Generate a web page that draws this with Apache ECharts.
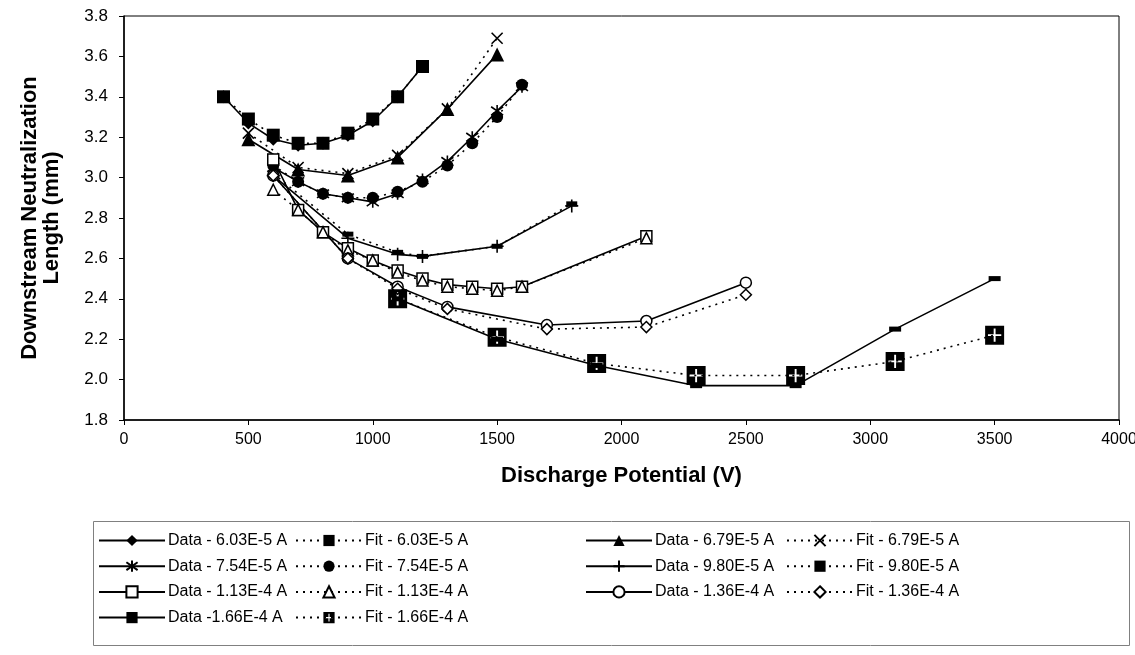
<!DOCTYPE html>
<html><head><meta charset="utf-8">
<script src="https://cdn.jsdelivr.net/npm/echarts@6/dist/echarts.min.js"></script>
<style>html,body{margin:0;padding:0;background:#fff}#c{width:1135px;height:655px}</style>
</head><body><div id="c"></div>
<script>
// ---- data ----
const x603 = [400,500,600,700,800,900,1000,1100,1200];
const data603 = [3.40,3.27,3.19,3.16,3.17,3.21,3.28,3.40,3.55];
const fit603  = [3.40,3.29,3.21,3.17,3.17,3.22,3.29,3.40,3.55];
const x679 = [500,700,900,1100,1300,1500];
const data679 = [3.19,3.04,3.01,3.10,3.34,3.61];
const fit679  = [3.22,3.05,3.02,3.11,3.34,3.69];
const x754 = [600,700,800,900,1000,1100,1200,1300,1400,1500,1600];
const data754 = [3.05,2.98,2.92,2.90,2.88,2.92,2.99,3.08,3.20,3.33,3.45];
const fit754  = [3.06,2.98,2.92,2.90,2.90,2.93,2.98,3.06,3.17,3.30,3.46];
const x980 = [600,900,1100,1200,1500,1800];
const data980 = [3.01,2.70,2.62,2.61,2.66,2.86];
const fit980  = [3.02,2.72,2.63,2.61,2.66,2.87];
const x113 = [600,700,800,900,1000,1100,1200,1300,1400,1500,1600,2100];
const data113 = [3.09,2.84,2.73,2.65,2.59,2.54,2.50,2.47,2.46,2.45,2.46,2.71];
const fit113  = [2.94,2.84,2.73,2.64,2.59,2.53,2.49,2.46,2.45,2.44,2.46,2.70];
const x136 = [600,900,1100,1300,1700,2100,2500];
const data136 = [3.01,2.60,2.46,2.36,2.27,2.29,2.48];
const fit136  = [3.01,2.60,2.45,2.35,2.25,2.26,2.42];
const x166 = [1100,1500,1900,2300,2700,3100,3500];
const data166 = [2.40,2.20,2.07,1.97,1.97,2.25,2.50];
const fit166  = [2.40,2.21,2.08,2.02,2.02,2.09,2.22];
const xTicks = [0,500,1000,1500,2000,2500,3000,3500,4000];
const yTicks = [1.8,2.0,2.2,2.4,2.6,2.8,3.0,3.2,3.4,3.6,3.8];

const names = {
  d603:'Data - 6.03E-5 A', f603:'Fit - 6.03E-5 A',
  d679:'Data - 6.79E-5 A', f679:'Fit - 6.79E-5 A',
  d754:'Data - 7.54E-5 A', f754:'Fit - 7.54E-5 A',
  d980:'Data - 9.80E-5 A', f980:'Fit - 9.80E-5 A',
  d113:'Data - 1.13E-4 A', f113:'Fit - 1.13E-4 A',
  d136:'Data - 1.36E-4 A', f136:'Fit - 1.36E-4 A',
  d166:'Data -1.66E-4 A',  f166:'Fit - 1.66E-4 A'
};
const FONT = 'Arial, "Liberation Sans", sans-serif';
const pair = (xs, ys) => xs.map((x,i)=>[x, ys[i]]);

const SYM = {
  x: 'path://M0,0L10,10M10,0L0,10',
  star: 'path://M5,0L5,10M0,1.5L10,8.5M10,1.5L0,8.5',
  plus: 'path://M5,0L5,10M0,5L10,5',
  crossSq: 'path://M0,0L20,0L20,20L0,20Z M9,3L9,9L3,9L3,11L9,11L9,17L11,17L11,11L17,11L17,9L11,9L11,3Z'
};
function ser(name, xs, ys, dotted, symbol, size, style) {
  return {
    name, type:'line', data: pair(xs, ys), symbol, symbolSize: size,
    showAllSymbol: true, animation:false,
    lineStyle: {color:'#000', width: 1.6, type: dotted ? [2,5] : 'solid'},
    itemStyle: Object.assign({color:'#000', borderColor:'#000', borderWidth:0, opacity:1}, style || {}),
    emphasis:{disabled:true}, z: 2
  };
}
const open = {color:'#fff', borderColor:'#000', borderWidth:1.5};
const stroke = {color:'#000', borderColor:'#000', borderWidth:1.6};

const series = [
  ser(names.d603, x603, data603, false, 'diamond', 13),
  ser(names.f603, x603, fit603, true, 'rect', 13),
  ser(names.d679, x679, data679, false, 'triangle', 14),
  ser(names.f679, x679, fit679, true, SYM.x, 11, stroke),
  ser(names.d754, x754, data754, false, SYM.star, 12, stroke),
  ser(names.f754, x754, fit754, true, 'circle', 12),
  ser(names.d980, x980, data980, false, SYM.plus, 13, stroke),
  ser(names.f980, x980, fit980, true, 'rect', [11,5]),
  ser(names.d113, x113, data113, false, 'rect', 11, open),
  ser(names.f113, x113, fit113, true, 'triangle', 11, open),
  ser(names.d136, x136, data136, false, 'circle', 11, open),
  ser(names.f136, x136, fit136, true, 'diamond', 11, open),
  ser(names.d166, x166, data166, false, 'rect', [12,5]),
  ser(names.f166, x166, fit166, true, SYM.crossSq, 19)
];

function legend(left, list) {
  return {
    orient:'vertical', left, top: 527, itemWidth: 66, itemHeight: 14, itemGap: 8.7,
    data: list, selectedMode:false,
    textStyle:{fontFamily:FONT, fontSize:16, color:'#000', lineHeight:17, padding:[0,0,0,-2]},
    inactiveColor:'#000'
  };
}

const chart = echarts.init(document.getElementById('c'), null, {renderer:'canvas'});
chart.setOption({
  backgroundColor:'#fff',
  animation:false,
  textStyle:{fontFamily:FONT},
  grid:{left:124, right:16, top:16, bottom:235, show:true, borderColor:'#000', borderWidth:1,
        containLabel:false, outerBoundsMode:'none'},
  xAxis:{
    type:'value', min:xTicks[0], max:xTicks[xTicks.length-1], interval:500,
    name:'Discharge Potential (V)', nameLocation:'middle', nameGap:44,
    nameTextStyle:{fontFamily:FONT, fontSize:22, fontWeight:'bold', color:'#000', lineHeight:24},
    axisLine:{show:true, lineStyle:{color:'#000', width:1.5}},
    axisTick:{show:true, length:5, lineStyle:{color:'#000'}},
    axisLabel:{fontFamily:FONT, fontSize:16, color:'#000', margin:12, formatter:v=>String(v),
               showMinLabel:true, showMaxLabel:true},
    splitLine:{show:false}
  },
  yAxis:{
    type:'value', min:yTicks[0], max:yTicks[yTicks.length-1], interval:0.2,
    name:'Downstream Neutralization\nLength (mm)', nameLocation:'middle', nameGap:61,
    nameRotate:90,
    nameTextStyle:{fontFamily:FONT, fontSize:22, fontWeight:'bold', color:'#000', lineHeight:22},
    axisLine:{show:true, lineStyle:{color:'#000', width:1.5}},
    axisTick:{show:true, length:5, lineStyle:{color:'#000'}},
    axisLabel:{fontFamily:FONT, fontSize:17, color:'#000', margin:16, formatter:v=>v.toFixed(1)},
    splitLine:{show:false}
  },
  legend:[
    legend(93, [names.d603, names.d754, names.d113, names.d166]),
    legend(290, [names.f603, names.f754, names.f113, names.f166]),
    legend(580, [names.d679, names.d980, names.d136]),
    legend(781, [names.f679, names.f980, names.f136])
  ],
  graphic:[{type:'rect', left:91, top:519, shape:{width:1036, height:124},
    style:{fill:'none', stroke:'#808080', lineWidth:1}, silent:true}],
  series
});
</script></body></html>
